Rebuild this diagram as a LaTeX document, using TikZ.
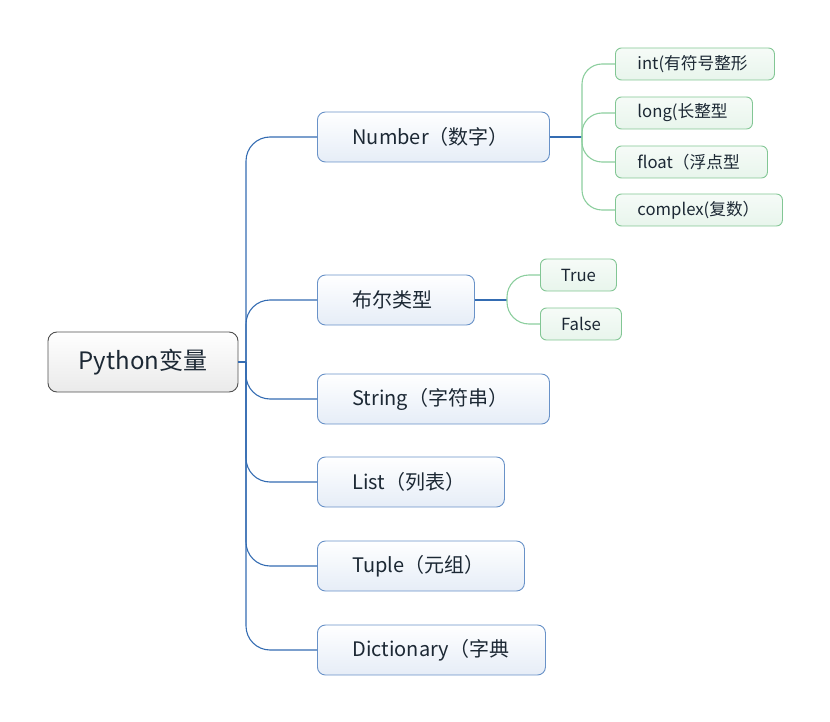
\documentclass[tikz,border=0pt]{standalone}
\usepackage{fontspec}
\setmainfont{Noto Sans CJK SC}
\definecolor{blueline}{RGB}{52,108,178}
\definecolor{blueborder}{RGB}{105,146,200}
\definecolor{bluefill}{RGB}{230,237,247}
\definecolor{greenline}{RGB}{140,206,158}
\definecolor{greenborder}{RGB}{130,198,148}
\definecolor{greenfill}{RGB}{232,245,236}
\definecolor{rootborder}{RGB}{80,80,80}
\definecolor{rootfill}{RGB}{234,234,234}
\definecolor{textcol}{RGB}{28,40,52}
\newcommand\lbx[2]{\makebox[#1][l]{\hspace{35pt}#2}}
\newcommand\gbx[2]{\makebox[#1][l]{\hspace{22pt}#2}}
\begin{document}
\begin{tikzpicture}[x=1pt,y=-1pt,
  rootbox/.style={draw=rootborder, line width=0.9pt, rounded corners=9pt, top color=white, bottom color=rootfill, minimum width=190pt, minimum height=60pt, inner sep=0pt, text=textcol, font=\fontsize{24}{26}\selectfont},
  mainbox/.style={draw=blueborder, line width=0.9pt, rounded corners=8pt, top color=white, bottom color=bluefill, minimum height=50pt, inner sep=0pt, anchor=west, text=textcol, font=\fontsize{20}{22}\selectfont},
  subbox/.style={draw=greenborder, line width=0.9pt, rounded corners=6pt, top color=white!60!greenfill, bottom color=greenfill, minimum height=32pt, inner sep=0pt, anchor=west, text=textcol, font=\fontsize{16.7}{18}\selectfont},
  bconn/.style={draw=blueline, line width=1.1pt},
  gconn/.style={draw=greenline, line width=1.1pt}]
\useasboundingbox (0,0) rectangle (830,722);

\node[rootbox] (root) at (143,362) {Python变量};

\node[mainbox] (num)  at (317,137) {\lbx{232pt}{Number（数字）}};
\node[mainbox] (bool) at (317,300) {\lbx{157pt}{布尔类型}};
\node[mainbox] (str)  at (317,399) {\lbx{232pt}{String（字符串）}};
\node[mainbox] (lst)  at (317,482) {\lbx{187pt}{List（列表）}};
\node[mainbox] (tup)  at (317,566) {\lbx{207pt}{Tuple（元组）}};
\node[mainbox] (dict) at (317,650) {\lbx{228pt}{Dictionary（字典}};

\node[subbox] (int)   at (615,64)  {\gbx{159pt}{int(有符号整形}};
\node[subbox] (long)  at (615,113) {\gbx{137pt}{long(长整型}};
\node[subbox] (float) at (615,162) {\gbx{152pt}{float（浮点型}};
\node[subbox] (cplx)  at (615,210) {\gbx{167pt}{complex(复数）}};

\node[subbox, minimum width=76pt, anchor=west] (true)  at (540,275) {True};
\node[subbox, minimum width=81pt, anchor=west] (false) at (540,324) {False};

\coordinate (bt) at (246,362);
\draw[bconn] (root.east) -- (bt);
\foreach \n in {num,bool,str,lst,tup,dict}
  \draw[bconn, rounded corners=24pt] (bt) |- (\n.west);

\coordinate (gt) at (582,137);
\draw[bconn] (num.east) -- (gt);
\foreach \n in {int,long,float,cplx}
  \draw[gconn, rounded corners=20pt] (gt) |- (\n.west);

\coordinate (bt2) at (507,300);
\draw[bconn] (bool.east) -- (bt2);
\foreach \n in {true,false}
  \draw[gconn, rounded corners=22pt] (bt2) |- (\n.west);
\end{tikzpicture}
\end{document}
